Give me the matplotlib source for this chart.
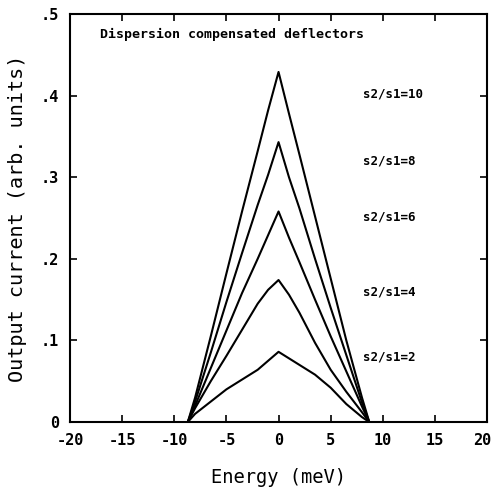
import numpy as np
import matplotlib
matplotlib.use("Agg")
import matplotlib.pyplot as plt
import matplotlib.transforms as mtransforms

# energies (meV) at which each curve was sampled
energy = [-8.7, -8.0, -6.5, -5.0, -3.5, -2.0, -1.0, 0.0, 1.0, 2.0, 3.5, 5.0, 6.5, 8.0, 8.7]

# output current for each slit ratio s2/s1
cur_2 = [0.0, 0.010, 0.025, 0.040, 0.052, 0.064, 0.075, 0.086, 0.078, 0.070, 0.058, 0.042, 0.022, 0.006, 0.0]
cur_4 = [0.0, 0.017, 0.050, 0.081, 0.113, 0.145, 0.162, 0.174, 0.156, 0.134, 0.097, 0.064, 0.037, 0.012, 0.0]
cur_6 = [0.0, 0.020, 0.066, 0.112, 0.158, 0.200, 0.229, 0.258, 0.226, 0.196, 0.150, 0.105, 0.062, 0.019, 0.0]
cur_8 = [0.0, 0.025, 0.085, 0.147, 0.207, 0.266, 0.303, 0.343, 0.300, 0.262, 0.200, 0.140, 0.082, 0.024, 0.0]
cur_10 = [0.0, 0.030, 0.105, 0.182, 0.258, 0.332, 0.382, 0.429, 0.378, 0.328, 0.252, 0.176, 0.100, 0.030, 0.0]

curves = [cur_2, cur_4, cur_6, cur_8, cur_10]
ratio_labels = ["s2/s1=2", "s2/s1=4", "s2/s1=6", "s2/s1=8", "s2/s1=10"]
label_y = [0.080, 0.159, 0.251, 0.320, 0.402]

xticks = [-20, -15, -10, -5, 0, 5, 10, 15, 20]
yticks = [0, 0.1, 0.2, 0.3, 0.4, 0.5]
ytick_labels = ["0", ".1", ".2", ".3", ".4", ".5"]

mono = "DejaVu Sans Mono"

fig = plt.figure(figsize=(4.94, 4.92), dpi=100)
ax = fig.add_axes([0.1417, 0.1423, 0.8443, 0.8292])

for c in curves:
    ax.plot(energy, c, color="black", lw=1.5)

for lab, yv in zip(ratio_labels, label_y):
    ax.text(8.1, yv, lab, fontsize=9, fontweight="bold", family=mono,
            va="center", ha="left")

ax.text(-17.1, 0.475, "Dispersion compensated deflectors", fontsize=9.5,
        fontweight="bold", family=mono, va="center", ha="left")

ax.set_xlim(-20, 20)
ax.set_ylim(0, 0.5)
ax.set_xticks(xticks)
ax.set_xticklabels([str(t) for t in xticks], fontsize=11, fontweight="bold",
                   family=mono)
ax.set_yticks(yticks)
ax.set_yticklabels(ytick_labels, fontsize=11, fontweight="bold", family=mono)
ax.tick_params(direction="in", length=5, width=1.2, top=True, right=True, pad=8)
for s in ax.spines.values():
    s.set_linewidth(1.5)

# keep the last x tick label inside the figure
last = ax.get_xticklabels()[-1]
last.set_transform(last.get_transform() +
                   mtransforms.ScaledTranslation(-5 / 100, 0, fig.dpi_scale_trans))

ax.set_xlabel("Energy (meV)", fontsize=13.5, family=mono, labelpad=14)
ax.set_ylabel("Output current (arb. units)", fontsize=14.5, family=mono, labelpad=10)

fig.savefig("out.png", dpi=100)
